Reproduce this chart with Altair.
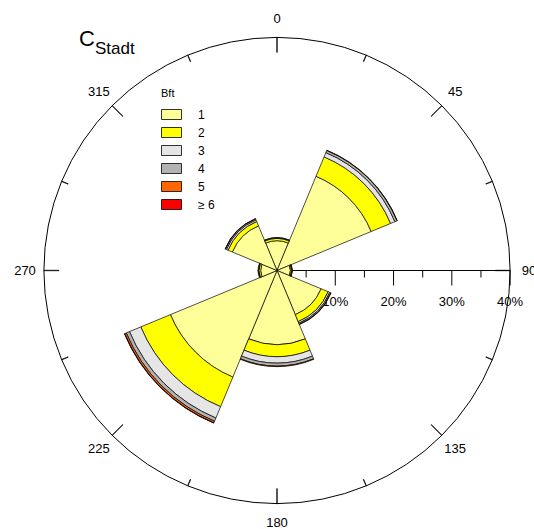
import math

import altair as alt
import pandas as pd

# Wind rose: relative frequency (%) of wind direction per Beaufort class
directions = [0, 45, 90, 135, 180, 225, 270, 315]
bft_classes = ["1", "2", "3", "4", "5", "≥ 6"]
bft_colors = ["#FFFF99", "#FFFF00", "#E5E5E5", "#B3B3B3", "#FF6600", "#FF0000"]

freq_bft1 = [5.1, 17.5, 2.3, 8.2, 12.7, 19.8, 2.8, 8.3]
freq_bft2 = [0.4, 3.6, 0.2, 1.3, 2.1, 5.5, 0.3, 0.8]
freq_bft3 = [0.1, 0.8, 0.1, 0.3, 1.1, 2.1, 0.1, 0.3]
freq_bft4 = [0.05, 0.4, 0.05, 0.2, 0.5, 0.6, 0.05, 0.2]
freq_bft5 = [0.0, 0.05, 0.0, 0.05, 0.1, 0.3, 0.0, 0.05]
freq_bft6 = [0.0, 0.0, 0.0, 0.0, 0.0, 0.05, 0.0, 0.0]

dir_labels = ["0", "45", "90", "135", "180", "225", "270", "315"]
ring_ticks = [i * 22.5 for i in range(16)]
pct_ticks = [5, 10, 15, 20, 25, 30, 35, 40]
pct_label_values = [10, 20, 30, 40]
pct_labels = ["10%", "20%", "30%", "40%"]

title_main = "C"
title_sub = "Stadt"

# geometry
CX, CY, R = 277, 270.5, 233.1
R_MAX = 40.0
HALF = 22.5
FONT = "Liberation Sans"
px = R_MAX / R  # percent per pixel

series = [freq_bft1, freq_bft2, freq_bft3, freq_bft4, freq_bft5, freq_bft6]
rows = []
for i, d in enumerate(directions):
    cum = 0.0
    for k, cls in enumerate(bft_classes):
        v = series[k][i]
        if v > 0:
            rows.append(dict(dir=d, bft=cls, k=k, r0=cum, r1=cum + v,
                             t0=d - HALF, t1=d + HALF))
            cum += v
sectors_df = pd.DataFrame(rows)

theta_scale = alt.Scale(domain=[0, 360], range=[0, 2 * math.pi])
radius_scale = alt.Scale(type="linear", domain=[0, R_MAX], range=[0, R], zero=True)
x_scale = alt.Scale(domain=[0, R_MAX], range=[CX, CX + R])

center = dict(x=alt.value(CX), y=alt.value(CY))

# outer circle
circle_df = pd.DataFrame({"t0": [0], "t1": [360], "r": [R_MAX]})
circle = alt.Chart(circle_df).mark_arc(fillOpacity=0, stroke="black", strokeWidth=1).encode(
    theta=alt.Theta("t0:Q", scale=theta_scale, stack=None),
    theta2="t1:Q",
    radius=alt.Radius("r:Q", scale=radius_scale, stack=None),
    **center,
)

# tick marks on the ring: long every 45 degrees, short in between
ring_df = pd.DataFrame({"a": ring_ticks})
ring_df["len"] = [15 if (a % 45 == 0) else 7 for a in ring_ticks]
ring_df["t0"] = ring_df["a"] - 0.05
ring_df["t1"] = ring_df["a"] + 0.05
ring_df["r0"] = R_MAX - ring_df["len"] * px
ring_df["r1"] = R_MAX
ring = alt.Chart(ring_df).mark_arc(fillOpacity=0, stroke="black", strokeWidth=0.8).encode(
    theta=alt.Theta("t0:Q", scale=theta_scale, stack=None),
    theta2="t1:Q",
    radius=alt.Radius("r1:Q", scale=radius_scale, stack=None),
    radius2="r0:Q",
    **center,
)

# radial percentage axis along the east direction
axis_df = pd.DataFrame({"a": [0.0], "b": [R_MAX]})
axis_line = alt.Chart(axis_df).mark_rule(color="black", strokeWidth=1).encode(
    x=alt.X("a:Q", scale=x_scale, axis=None),
    x2="b:Q",
    y=alt.value(CY),
)
tick_df = pd.DataFrame({"p": pct_ticks})
tick_df["major"] = [p % 10 == 0 for p in pct_ticks]
axis_ticks_major = alt.Chart(tick_df).mark_rule(color="black", strokeWidth=1).encode(
    x=alt.X("p:Q", scale=x_scale, axis=None),
    y=alt.value(CY),
    y2=alt.value(CY + 15),
).transform_filter("datum.major")
axis_ticks_minor = alt.Chart(tick_df).mark_rule(color="black", strokeWidth=1).encode(
    x=alt.X("p:Q", scale=x_scale, axis=None),
    y=alt.value(CY),
    y2=alt.value(CY + 7),
).transform_filter("!datum.major")

pct_df = pd.DataFrame({"p": pct_label_values, "label": pct_labels})
pct_text = alt.Chart(pct_df).mark_text(font=FONT, fontSize=13, baseline="middle", align="center").encode(
    x=alt.X("p:Q", scale=x_scale, axis=None),
    y=alt.value(CY + 31),
    text="label:N",
)

# stacked sectors
sectors = alt.Chart(sectors_df).mark_arc(stroke="black", strokeWidth=0.7).encode(
    theta=alt.Theta("t0:Q", scale=theta_scale, stack=None),
    theta2="t1:Q",
    radius=alt.Radius("r1:Q", scale=radius_scale, stack=None),
    radius2="r0:Q",
    fill=alt.Fill(
        "bft:N",
        scale=alt.Scale(domain=bft_classes, range=bft_colors),
        legend=alt.Legend(
            title="Bft",
            orient="none",
            legendX=161,
            legendY=88,
            titleFont=FONT,
            titleFontSize=11,
            titleFontWeight="normal",
            titlePadding=5,
            labelFont=FONT,
            labelFontSize=12,
            labelOffset=16,
            symbolType="M-1,-0.5H1V0.5H-1Z",
            symbolSize=400,
            symbolStrokeColor="black",
            symbolStrokeWidth=0.8,
            rowPadding=-2,
        ),
    ),
    order=alt.Order("k:Q"),
    **center,
)

# compass labels
dir_df = pd.DataFrame({"dir": directions, "label": dir_labels})
dir_df["r"] = 252 * px
dir_text = alt.Chart(dir_df).mark_text(font=FONT, fontSize=13, baseline="middle", align="center").encode(
    theta=alt.Theta("dir:Q", scale=theta_scale, stack=None),
    radius=alt.Radius("r:Q", scale=radius_scale, stack=None),
    text="label:N",
    **center,
)

title_df = pd.DataFrame({"main": [title_main], "sub": [title_sub]})
title_c = alt.Chart(title_df).mark_text(font=FONT, fontSize=22, align="left", baseline="alphabetic").encode(
    x=alt.value(79), y=alt.value(46), text="main:N"
)
title_s = alt.Chart(title_df).mark_text(font=FONT, fontSize=17, align="left", baseline="alphabetic").encode(
    x=alt.value(95), y=alt.value(53.5), text="sub:N"
)

chart = alt.layer(
    circle, ring, axis_line, axis_ticks_major, axis_ticks_minor, pct_text,
    sectors, dir_text, title_c, title_s,
).properties(
    width=534, height=529, padding=0, autosize="none",
).configure_view(stroke=None)

chart.save("out.html", embed_options={"renderer": "svg", "actions": False})
